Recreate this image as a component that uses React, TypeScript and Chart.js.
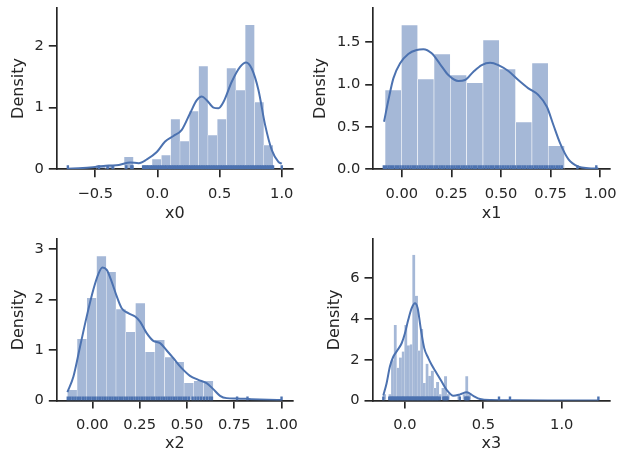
import React, { useEffect, useRef } from "react";
import { Chart, registerables } from "chart.js";

Chart.register(...registerables);

// ---------------- data ----------------
// x0
const x0BinStart = -0.717;
const x0BinWidth = 0.0749;
const x0Hist = [0, 0, 0, 0.067, 0.067, 0, 0.2, 0, 0.067, 0.167, 0.232, 0.815, 0.459, 0.945, 1.674, 0.556, 0.815, 1.64, 1.285, 2.34, 1.09, 0.394, 0];
const x0KdeX = [-0.72, -0.6, -0.49, -0.39, -0.31, -0.22, -0.15, -0.085, -0.005, 0.062, 0.129, 0.196, 0.263, 0.317, 0.357, 0.397, 0.451, 0.491, 0.531, 0.598, 0.665, 0.713, 0.759, 0.812, 0.866, 0.92, 0.973, 1.0];
const x0KdeY = [0.01, 0.02, 0.04, 0.06, 0.07, 0.11, 0.1, 0.16, 0.28, 0.45, 0.54, 0.64, 0.91, 1.12, 1.18, 1.12, 1.0, 0.99, 1.09, 1.42, 1.66, 1.73, 1.63, 1.29, 0.72, 0.31, 0.12, 0.09];
const x0Rug = [-0.72, -0.47, -0.4, -0.36, -0.25, -0.21, -0.2, -0.115, -0.1, -0.085, -0.07, -0.052, -0.04, -0.026, -0.012, 0.003, 0.017, 0.031, 0.044, 0.06, 0.072, 0.088, 0.101, 0.114, 0.128, 0.141, 0.156, 0.169, 0.183, 0.196, 0.21, 0.224, 0.237, 0.251, 0.264, 0.279, 0.292, 0.305, 0.319, 0.333, 0.346, 0.36, 0.373, 0.388, 0.401, 0.414, 0.428, 0.442, 0.455, 0.469, 0.483, 0.496, 0.51, 0.523, 0.537, 0.551, 0.564, 0.578, 0.592, 0.605, 0.619, 0.632, 0.646, 0.66, 0.673, 0.687, 0.7, 0.714, 0.728, 0.741, 0.755, 0.768, 0.782, 0.796, 0.809, 0.823, 0.836, 0.85, 0.864, 0.877, 0.891, 0.905, 0.918, 0.93, 1.0];
const x0XTicks = [-0.5, 0, 0.5, 1.0];
const x0XLabels = ["\u22120.5", "0.0", "0.5", "1.0"];
const x0YTicks = [0, 1, 2];
const x0YLabels = ["0", "1", "2"];

// x1
const x1BinStart = -0.084;
const x1BinWidth = 0.0822;
const x1Hist = [0.936, 1.704, 1.066, 1.361, 1.113, 1.022, 1.527, 1.184, 0.558, 1.255, 0.279, 0, 0];
const x1KdeX = [-0.089, -0.067, -0.042, -0.008, 0.033, 0.075, 0.109, 0.151, 0.193, 0.235, 0.285, 0.319, 0.361, 0.403, 0.445, 0.487, 0.537, 0.587, 0.638, 0.688, 0.731, 0.764, 0.798, 0.84, 0.89, 0.94, 0.99];
const x1KdeY = [0.562, 0.818, 1.074, 1.251, 1.361, 1.408, 1.417, 1.369, 1.243, 1.113, 1.042, 1.054, 1.152, 1.231, 1.259, 1.231, 1.16, 1.054, 0.956, 0.877, 0.739, 0.523, 0.307, 0.118, 0.031, 0.012, 0.008];
const x1Rug = [-0.09, -0.078, -0.066, -0.055, -0.043, -0.03, -0.018, -0.006, 0.007, 0.019, 0.031, 0.044, 0.056, 0.068, 0.08, 0.093, 0.105, 0.117, 0.13, 0.142, 0.154, 0.166, 0.178, 0.191, 0.203, 0.215, 0.228, 0.24, 0.252, 0.265, 0.277, 0.289, 0.302, 0.314, 0.326, 0.338, 0.351, 0.363, 0.375, 0.388, 0.4, 0.412, 0.425, 0.437, 0.449, 0.461, 0.474, 0.486, 0.498, 0.511, 0.523, 0.535, 0.548, 0.56, 0.572, 0.585, 0.597, 0.609, 0.621, 0.634, 0.646, 0.658, 0.671, 0.683, 0.695, 0.708, 0.72, 0.732, 0.745, 0.757, 0.769, 0.782, 0.794, 0.806, 0.885, 0.98];
const x1XTicks = [0, 0.25, 0.5, 0.75, 1.0];
const x1XLabels = ["0.00", "0.25", "0.50", "0.75", "1.00"];
const x1YTicks = [0, 0.5, 1.0, 1.5];
const x1YLabels = ["0.0", "0.5", "1.0", "1.5"];

// x2
const x2BinStart = -0.132;
const x2BinWidth = 0.0514;
const x2Hist = [0.212, 1.22, 2.03, 2.86, 2.545, 1.81, 1.358, 1.93, 0.963, 1.2, 0.86, 0.765, 0.35, 0.39, 0.39, 0, 0, 0, 0, 0, 0, 0];
const x2KdeX = [-0.132, -0.1, -0.065, -0.03, 0.005, 0.032, 0.053, 0.076, 0.102, 0.129, 0.155, 0.19, 0.226, 0.252, 0.287, 0.322, 0.358, 0.393, 0.428, 0.472, 0.516, 0.56, 0.604, 0.639, 0.675, 0.71, 0.763, 0.84, 0.93, 1.0];
const x2KdeY = [0.166, 0.475, 1.068, 1.66, 2.19, 2.505, 2.63, 2.585, 2.353, 2.06, 1.827, 1.728, 1.661, 1.562, 1.332, 1.18, 1.135, 0.989, 0.838, 0.64, 0.488, 0.409, 0.343, 0.225, 0.093, 0.047, 0.04, 0.027, 0.015, 0.01];
const x2Rug = [-0.13, -0.117, -0.104, -0.09, -0.077, -0.064, -0.05, -0.037, -0.024, -0.011, 0.002, 0.015, 0.028, 0.041, 0.054, 0.067, 0.08, 0.093, 0.106, 0.119, 0.132, 0.145, 0.158, 0.171, 0.184, 0.197, 0.21, 0.223, 0.236, 0.249, 0.262, 0.275, 0.288, 0.301, 0.314, 0.327, 0.34, 0.353, 0.366, 0.379, 0.392, 0.405, 0.418, 0.431, 0.444, 0.457, 0.47, 0.483, 0.496, 0.51, 0.53, 0.545, 0.56, 0.575, 0.59, 0.605, 0.62, 0.632, 0.765, 0.82, 1.0];
const x2XTicks = [0, 0.25, 0.5, 0.75, 1.0];
const x2XLabels = ["0.00", "0.25", "0.50", "0.75", "1.00"];
const x2YTicks = [0, 1, 2, 3];
const x2YLabels = ["0", "1", "2", "3"];

// x3
const x3BinStart = -0.138;
const x3BinWidth = 0.0169;
const x3Hist = [
  0.3, 0, 0.3, 1.97, 3.7, 1.6, 2.1, 2.4, 3.7, 2.7,
  2.75, 7.14, 5.13, 2.45, 3.5, 0.85, 1.8, 1.2, 1.45, 0.6,
  0.9, 0.3, 0.6, 1.18, 0.3, 0, 0, 0, 0.3, 0,
  0.3, 1.18, 0.3, 0, 0, 0, 0, 0, 0, 0,
  0, 0, 0, 0, 0, 0, 0, 0, 0, 0,
  0, 0, 0, 0, 0, 0, 0, 0, 0, 0,
  0, 0, 0, 0, 0, 0, 0, 0, 0, 0,
  0, 0, 0, 0, 0, 0, 0, 0, 0, 0,
  0,
];
const x3KdeX = [-0.138, -0.117, -0.096, -0.074, -0.049, -0.021, 0, 0.021, 0.043, 0.064, 0.081, 0.102, 0.123, 0.149, 0.17, 0.202, 0.234, 0.266, 0.309, 0.351, 0.394, 0.436, 0.479, 0.55, 0.7, 0.91, 1.234];
const x3KdeY = [0.25, 0.85, 1.67, 2.16, 2.45, 2.81, 3.3, 3.96, 4.53, 4.77, 4.53, 3.47, 2.57, 2.08, 1.75, 1.34, 0.93, 0.52, 0.23, 0.3, 0.41, 0.23, 0.07, 0.02, 0.01, 0.005, 0.0];
const x3Rug = [-0.138, -0.1, -0.092, -0.084, -0.076, -0.068, -0.06, -0.052, -0.044, -0.036, -0.028, -0.02, -0.012, -0.004, 0.004, 0.012, 0.02, 0.028, 0.036, 0.044, 0.052, 0.06, 0.068, 0.076, 0.084, 0.092, 0.1, 0.108, 0.116, 0.124, 0.132, 0.14, 0.148, 0.156, 0.164, 0.172, 0.18, 0.188, 0.196, 0.204, 0.212, 0.222, 0.245, 0.252, 0.259, 0.266, 0.272, 0.35, 0.385, 0.392, 0.399, 0.406, 0.6, 0.67, 1.234];
const x3XTicks = [0, 0.5, 1.0];
const x3XLabels = ["0.0", "0.5", "1.0"];
const x3YTicks = [0, 2, 4, 6];
const x3YLabels = ["0", "2", "4", "6"];

// ---------------- style / layout ----------------
const W = 628;
const H = 463;
const FONT = '"DejaVu Sans", "Liberation Sans", sans-serif';
const INK = "#262626";
const LINE = "#4c72b0";
const BAR = "rgba(76,114,176,0.5)";
const TICK_FONT = 14.67;
const TITLE_FONT = 16;
const HALF_TITLE = (TITLE_FONT * 1.2) / 2;

type Panel = {
  name: string;
  binStart: number;
  binWidth: number;
  hist: number[];
  kdeX: number[];
  kdeY: number[];
  rug: number[];
  xTicks: number[];
  xLabels: string[];
  yTicks: number[];
  yLabels: string[];
  xMin: number;
  xMax: number;
  yMax: number;
  edge: number;
  area: { left: number; top: number; right: number; bottom: number };
  yTitleX: number;
  xTitleY: number;
};

const PANELS: Panel[] = [
  {
    name: "x0", binStart: x0BinStart, binWidth: x0BinWidth, hist: x0Hist, kdeX: x0KdeX, kdeY: x0KdeY, rug: x0Rug,
    xTicks: x0XTicks, xLabels: x0XLabels, yTicks: x0YTicks, yLabels: x0YLabels,
    xMin: -0.809, xMax: 1.088, yMax: 2.62, edge: 0.47,
    area: { left: 56.8, top: 7.7, right: 292.7, bottom: 169.3 }, yTitleX: 19.1, xTitleY: 213.5,
  },
  {
    name: "x1", binStart: x1BinStart, binWidth: x1BinWidth, hist: x1Hist, kdeX: x1KdeX, kdeY: x1KdeY, rug: x1Rug,
    xTicks: x1XTicks, xLabels: x1XLabels, yTicks: x1YTicks, yLabels: x1YLabels,
    xMin: -0.1436, xMax: 1.049, yMax: 1.908, edge: 0.6,
    area: { left: 373.2, top: 7.7, right: 610, bottom: 169.3 }, yTitleX: 320.6, xTitleY: 213.5,
  },
  {
    name: "x2", binStart: x2BinStart, binWidth: x2BinWidth, hist: x2Hist, kdeX: x2KdeX, kdeY: x2KdeY, rug: x2Rug,
    xTicks: x2XTicks, xLabels: x2XLabels, yTicks: x2YTicks, yLabels: x2YLabels,
    xMin: -0.188, xMax: 1.059, yMax: 3.19, edge: 0.49,
    area: { left: 56.8, top: 239.3, right: 292.7, bottom: 400.5 }, yTitleX: 19.1, xTitleY: 443.5,
  },
  {
    name: "x3", binStart: x3BinStart, binWidth: x3BinWidth, hist: x3Hist, kdeX: x3KdeX, kdeY: x3KdeY, rug: x3Rug,
    xTicks: x3XTicks, xLabels: x3XLabels, yTicks: x3YTicks, yLabels: x3YLabels,
    xMin: -0.207, xMax: 1.308, yMax: 7.91, edge: 0.15,
    area: { left: 372.5, top: 239.3, right: 610, bottom: 400.5 }, yTitleX: 334.9, xTitleY: 443.5,
  },
];

function buildConfig(p: Panel): any {
  const padLeft = p.yTitleX - HALF_TITLE;
  const padBottom = H - (p.xTitleY + HALF_TITLE);
  const yWidth = p.area.left - padLeft;
  const xHeight = p.xTitleY + HALF_TITLE - p.area.bottom;
  const centers = p.hist.map((_, i) => p.binStart + (i + 0.5) * p.binWidth);

  const tickFont = { family: FONT, size: TICK_FONT };
  const titleFont = { family: FONT, size: TITLE_FONT };
  const gridCommon = {
    display: true,
    drawOnChartArea: false,
    drawTicks: true,
    tickLength: 8,
    lineWidth: 1.67,
    tickWidth: 1.67,
    tickColor: INK,
    color: INK,
    offset: false,
  };

  return {
    type: "bar",
    data: {
      datasets: [
        {
          type: "scatter",
          data: p.rug.map((x) => ({ x, y: 0.0125 })),
          yAxisID: "yr",
          pointStyle: "line",
          pointRotation: 90,
          pointRadius: 2.1,
          pointBorderColor: LINE,
          pointBorderWidth: 2.4,
          borderColor: LINE,
          order: 0,
        },
        {
          type: "line",
          data: p.kdeX.map((x, i) => ({ x, y: p.kdeY[i] })),
          borderColor: LINE,
          borderWidth: 2,
          pointRadius: 0,
          fill: false,
          cubicInterpolationMode: "monotone",
          order: 1,
        },
        {
          type: "bar",
          data: centers.map((x, i) => ({ x, y: p.hist[i] })),
          backgroundColor: BAR,
          borderColor: "#ffffff",
          borderWidth: { left: p.edge, right: p.edge, top: p.edge, bottom: 0 },
          borderSkipped: false,
          barPercentage: 1,
          categoryPercentage: 1,
          order: 2,
        },
      ],
    },
    options: {
      responsive: false,
      animation: false,
      events: [],
      devicePixelRatio: 1,
      layout: {
        autoPadding: false,
        padding: { left: padLeft, top: p.area.top, right: W - p.area.right, bottom: padBottom },
      },
      plugins: { legend: { display: false }, tooltip: { enabled: false }, title: { display: false } },
      scales: {
        x: {
          type: "linear",
          position: "bottom",
          min: p.xMin,
          max: p.xMax,
          offset: false,
          afterBuildTicks: (s: any) => {
            s.ticks = p.xTicks.map((v) => ({ value: v }));
          },
          afterFit: (s: any) => {
            s.height = xHeight;
            s.paddingLeft = 0;
            s.paddingRight = 0;
            s.paddingTop = 0;
            s.paddingBottom = 0;
          },
          ticks: {
            callback: (_v: any, i: number) => p.xLabels[i],
            font: tickFont,
            color: INK,
            padding: 8,
            maxRotation: 0,
            minRotation: 0,
            autoSkip: false,
          },
          grid: gridCommon,
          border: { display: true, color: INK, width: 1.67 },
          title: { display: true, text: p.name, font: titleFont, color: INK, padding: 0 },
        },
        y: {
          type: "linear",
          position: "left",
          min: 0,
          max: p.yMax,
          afterBuildTicks: (s: any) => {
            s.ticks = p.yTicks.map((v) => ({ value: v }));
          },
          afterFit: (s: any) => {
            s.width = yWidth;
            s.paddingLeft = 0;
            s.paddingRight = 0;
            s.paddingTop = 0;
            s.paddingBottom = 0;
          },
          ticks: {
            callback: (_v: any, i: number) => p.yLabels[i],
            font: tickFont,
            color: INK,
            padding: 5,
            autoSkip: false,
          },
          grid: gridCommon,
          border: { display: true, color: INK, width: 1.67 },
          title: { display: true, text: "Density", font: titleFont, color: INK, padding: 0 },
        },
        yr: {
          type: "linear",
          display: false,
          min: 0,
          max: 1,
        },
      },
    },
  };
}

function PanelChart({ p }: { p: Panel }) {
  const ref = useRef<HTMLCanvasElement>(null);
  useEffect(() => {
    if (!ref.current) return;
    const chart = new Chart(ref.current, buildConfig(p));
    return () => chart.destroy();
  }, [p]);
  return (
    <canvas
      ref={ref}
      width={W}
      height={H}
      style={{ position: "absolute", left: 0, top: 0, width: W, height: H }}
    />
  );
}

export default function App() {
  return (
    <div style={{ position: "fixed", left: 0, top: 0, width: W, height: H, background: "#ffffff", overflow: "hidden" }}>
      {PANELS.map((p) => (
        <PanelChart key={p.name} p={p} />
      ))}
    </div>
  );
}
